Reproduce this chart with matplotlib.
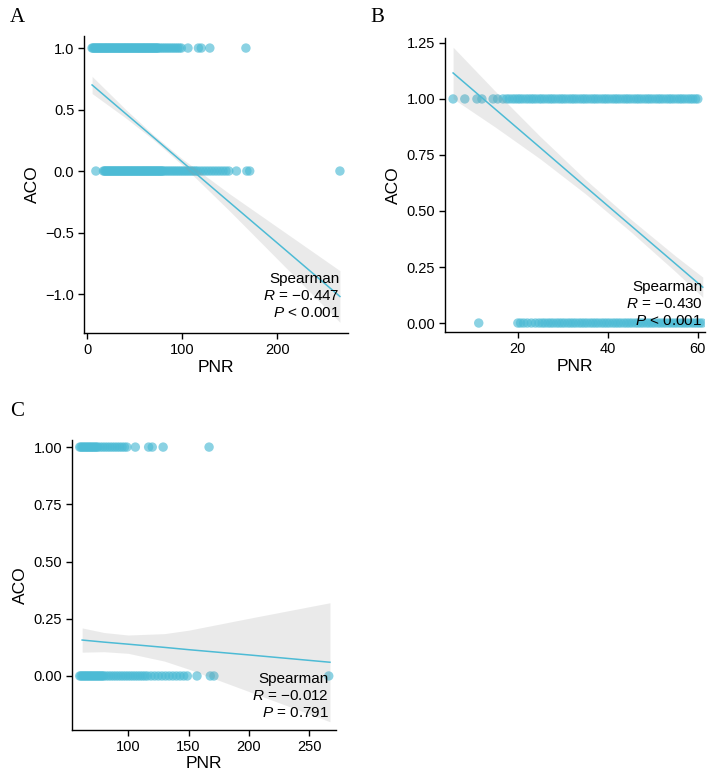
import matplotlib
matplotlib.use('Agg')
import matplotlib.pyplot as plt
import numpy as np

plt.rcParams['font.family'] = ['Liberation Sans', 'DejaVu Sans']
plt.rcParams['mathtext.fontset'] = 'custom'
plt.rcParams['mathtext.it'] = 'Liberation Sans:italic'
plt.rcParams['mathtext.rm'] = 'Liberation Sans'

# ---------------- data ----------------
# Panel A: PNR of patients with ACO = 1 and ACO = 0
a_pnr_aco1 = [5, 6, 7, 8, 9, 10, 11, 12, 13, 14, 15, 16, 17, 18, 19, 20, 21, 22, 23, 24, 25,
              26, 27, 28, 29, 30, 31, 32, 33, 34, 35, 36, 37, 38, 39, 40, 41, 42, 43, 44, 45,
              46, 47, 48, 49, 50, 51, 52, 53, 54, 55, 56, 57, 58, 59, 60, 61, 62, 63, 64, 65,
              66, 67, 68, 69, 70, 71, 72, 73, 74, 75, 77, 79, 81, 83, 85, 87, 89, 91, 93, 95,
              97, 99, 106, 117, 120, 129, 167]
a_pnr_aco0 = [9, 17, 18, 19, 20, 21, 22, 23, 24, 25, 26, 27, 28, 29, 30, 31, 32, 33, 34, 35,
              36, 37, 38, 39, 40, 41, 42, 43, 44, 45, 46, 47, 48, 49, 50, 51, 52, 53, 54, 55,
              56, 57, 58, 59, 60, 61, 62, 63, 64, 65, 66, 67, 68, 69, 70, 71, 72, 73, 74, 75,
              76, 77, 78, 79, 80, 82, 84, 86, 88, 90, 92, 94, 96, 98, 100, 102, 104, 106, 108,
              110, 112, 114, 116, 119, 122, 125, 128, 131, 134, 137, 140, 143, 146, 149, 157,
              168, 171, 266]
# Panel B
b_pnr_aco1 = [5.6, 8.2, 10.9, 12.0, 14.5, 15.5, 16.7, 17.5, 18.1, 18.8, 19.4, 20.0, 20.5, 21.1,
              21.8, 22.4, 23.0, 23.5, 24.1, 24.8, 25.3, 25.9, 26.6, 27.2, 27.7, 28.3, 29.0, 29.6,
              30.1, 30.7, 31.4, 32.0, 32.5, 33.1, 33.8, 34.4, 34.9, 35.5, 36.2, 36.8, 37.3, 37.9,
              38.6, 39.2, 39.7, 40.3, 41.0, 41.6, 42.1, 42.7, 43.4, 44.0, 44.5, 45.1, 45.8, 46.4,
              46.9, 47.5, 48.2, 48.8, 49.3, 49.9, 50.6, 51.2, 51.7, 52.3, 53.0, 53.6, 54.1, 54.7,
              55.4, 56.0, 56.5, 57.1, 57.8, 58.4, 58.9, 59.5, 60.0]
b_pnr_aco0 = [11.3, 20.0, 20.6, 21.3, 22.1, 23.0, 23.9, 24.7, 25.4, 26.0, 26.7, 27.3, 27.9, 28.6,
              29.2, 29.8, 30.4, 31.1, 31.7, 32.3, 32.9, 33.6, 34.2, 34.8, 35.4, 36.1, 36.7, 37.3,
              37.9, 38.6, 39.2, 39.8, 40.4, 41.1, 41.7, 42.3, 42.9, 43.6, 44.2, 44.8, 45.4, 46.1,
              46.7, 47.3, 47.9, 48.6, 49.2, 49.8, 50.4, 51.1, 51.7, 52.3, 52.9, 53.6, 54.2, 54.8,
              55.4, 56.1, 56.7, 57.3, 57.9, 58.6, 59.2, 59.8, 60.4, 61.0]
# Panel C uses the panel-A patients with PNR >= 60
c_min_pnr = 60

# fitted lines with confidence band (read at several PNR values)
a_fit_x = [5, 40, 70, 100, 150, 200, 266]
a_fit_y = [0.700, 0.469, 0.272, 0.074, -0.256, -0.585, -1.020]
a_fit_half = [0.07, 0.035, 0.02, 0.025, 0.07, 0.13, 0.21]

b_fit_x = [5.6, 15, 25, 35, 45, 55, 61.1]
b_fit_y = [1.116, 0.954, 0.782, 0.609, 0.437, 0.265, 0.160]
b_fit_half = [0.115, 0.08, 0.05, 0.032, 0.028, 0.035, 0.045]

c_fit_x = [62, 80, 100, 130, 150, 200, 267]
c_fit_y = [0.157, 0.148, 0.139, 0.125, 0.115, 0.092, 0.060]
c_fit_half = [0.053, 0.042, 0.04, 0.06, 0.085, 0.16, 0.26]

a_stats = ['Spearman', '$\\mathit{R}$ = \u22120.447', '$\\mathit{P}$ < 0.001']
b_stats = ['Spearman', '$\\mathit{R}$ = \u22120.430', '$\\mathit{P}$ < 0.001']
c_stats = ['Spearman', '$\\mathit{R}$ = \u22120.012', '$\\mathit{P}$ = 0.791']

a_xticks = [0, 100, 200]
a_yticks = [-1.0, -0.5, 0.0, 0.5, 1.0]
a_yticklabels = ['\u22121.0', '\u22120.5', '0.0', '0.5', '1.0']
b_xticks = [20, 40, 60]
b_yticks = [0.0, 0.25, 0.5, 0.75, 1.0, 1.25]
b_yticklabels = ['0.00', '0.25', '0.50', '0.75', '1.00', '1.25']
c_xticks = [100, 150, 200, 250]
c_yticks = [0.0, 0.25, 0.5, 0.75, 1.0]
c_yticklabels = ['0.00', '0.25', '0.50', '0.75', '1.00']

# ---------------- drawing ----------------
COL = '#4DBBD5'
W, H = 714, 780
fig = plt.figure(figsize=(W / 100, H / 100), dpi=100)


def make_axes(left, right, top, bottom):
    return fig.add_axes([left / W, 1 - bottom / H, (right - left) / W, (bottom - top) / H])


def panel(ax, x1, x0, fx, fy, fh, stats, xlim, ylim, xt, yt, ytl, tx, ty):
    ax.scatter(x1, [1] * len(x1), s=46, color=COL, alpha=0.65, edgecolors='none', zorder=2)
    ax.scatter(x0, [0] * len(x0), s=46, color=COL, alpha=0.65, edgecolors='none', zorder=2)
    fy = np.array(fy)
    fh = np.array(fh)
    ax.fill_between(fx, fy - fh, fy + fh, color='#999999', alpha=0.2, lw=0, zorder=3)
    ax.plot(fx, fy, color=COL, lw=1.1, zorder=4)
    ax.set_xlim(*xlim)
    ax.set_ylim(*ylim)
    ax.set_xticks(xt)
    ax.set_yticks(yt)
    ax.set_yticklabels(ytl)
    for s in ['top', 'right']:
        ax.spines[s].set_visible(False)
    for s in ['left', 'bottom']:
        ax.spines[s].set_linewidth(1.0)
    ax.tick_params(axis='both', direction='out', length=4, width=1.0, labelsize=10.5,
                   colors='black', pad=3)
    ax.set_xlabel('PNR', fontsize=12.5, labelpad=2)
    ax.set_ylabel('ACO', fontsize=12.5, labelpad=4)
    for i, t in enumerate(stats):
        ax.text(tx, ty - i * 0.058, t, transform=ax.transAxes, ha='right', va='center',
                fontsize=11, zorder=5)


axA = make_axes(84, 348, 36, 333)
panel(axA, a_pnr_aco1, a_pnr_aco0, a_fit_x, a_fit_y, a_fit_half, a_stats,
      (-3.5, 274.5), (-1.317, 1.098), a_xticks, a_yticks, a_yticklabels, 0.968, 0.182)

axB = make_axes(445, 705, 38, 332)
panel(axB, b_pnr_aco1, b_pnr_aco0, b_fit_x, b_fit_y, b_fit_half, b_stats,
      (3.8, 61.6), (-0.04, 1.272), b_xticks, b_yticks, b_yticklabels, 0.99, 0.153)

c1 = [v for v in a_pnr_aco1 if v >= c_min_pnr]
c0 = [v for v in a_pnr_aco0 if v >= c_min_pnr]
axC = make_axes(72, 336, 440, 730)
panel(axC, c1, c0, c_fit_x, c_fit_y, c_fit_half, c_stats,
      (53.6, 272), (-0.236, 1.031), c_xticks, c_yticks, c_yticklabels, 0.972, 0.176)

for lab, x, y in [('A', 10, 18), ('B', 370, 18), ('C', 10, 412)]:
    fig.text(x / W, 1 - y / H, lab, fontsize=15, family='Liberation Serif',
             ha='left', va='center')

fig.savefig('out.png', dpi=100)
